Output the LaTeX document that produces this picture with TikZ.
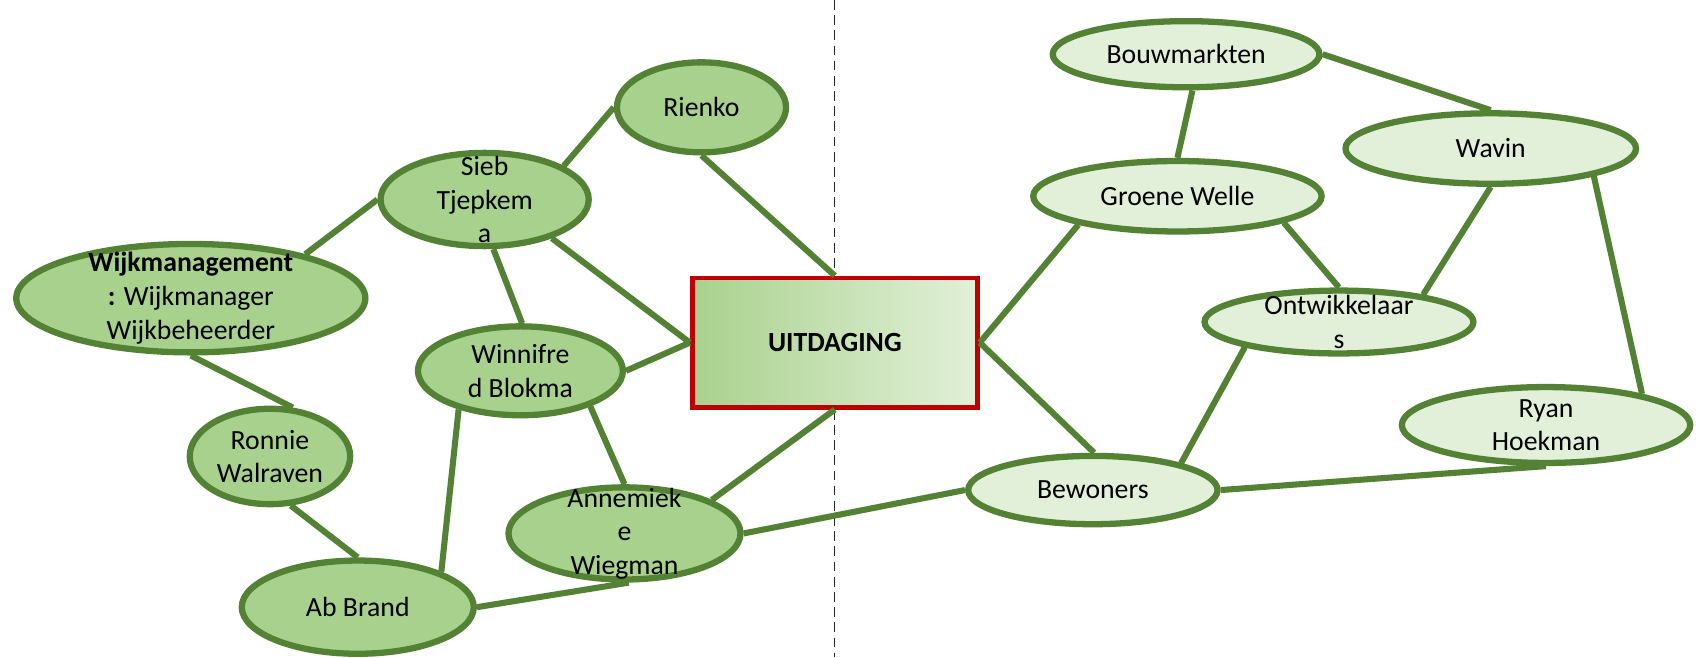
\documentclass[tikz,border=0pt]{standalone}
\usepackage{fontspec}
\setmainfont{Carlito}
\usetikzlibrary{shapes.geometric}
\definecolor{edge}{HTML}{548235}
\definecolor{fillA}{HTML}{A9D18E}
\definecolor{fillB}{HTML}{E2F0D9}
\definecolor{redb}{HTML}{C00000}
\begin{document}
\begin{tikzpicture}[x=0.5pt,y=-0.5pt,
  ell/.style={ellipse, draw=edge, line width=2.9pt, inner sep=0pt},
  ellA/.style={ell, fill=fillA},
  ellB/.style={ell, fill=fillB},
  lbl/.style={font=\fontsize{12.8}{15.5}\selectfont, align=center, inner sep=0pt},
  conn/.style={draw=edge, line width=2.8pt},
  divider/.style={draw=black!85, line width=0.6pt, dash pattern=on 4.5pt off 2.5pt}]
\useasboundingbox (0,0) rectangle (1568,606);
% divider
\coordinate (dtop) at (770,0);
\coordinate (dbot) at (770,606);
\draw[divider] (dtop) -- (dbot);
% ellipses
\node[ellA, minimum width=161pt, minimum height=50pt] (wijk) at (176,275) {};
\node[ellA, minimum width=96pt, minimum height=43pt] (sieb) at (447,184) {};
\node[ellA, minimum width=78pt, minimum height=41.5pt] (rienko) at (647,99) {};
\node[ellA, minimum width=94.5pt, minimum height=41pt] (winn) at (480,342) {};
\node[ellA, minimum width=74pt, minimum height=44pt] (ronnie) at (249,421) {};
\node[ellA, minimum width=107pt, minimum height=43pt] (ab) at (330,560) {};
\node[ellA, minimum width=107pt, minimum height=42.5pt] (ann) at (576,492) {};
\node[ellB, minimum width=123pt, minimum height=30.5pt] (bouw) at (1094,50) {};
\node[ellB, minimum width=133pt, minimum height=32.5pt] (gw) at (1086,181) {};
\node[ellB, minimum width=134pt, minimum height=32.5pt] (wavin) at (1375,137) {};
\node[ellB, minimum width=124pt, minimum height=29pt] (ontw) at (1235,297) {};
\node[ellB, minimum width=133pt, minimum height=35pt] (ryan) at (1426,392) {};
\node[ellB, minimum width=115pt, minimum height=31.5pt] (bew) at (1008,452) {};
% central box
\node[draw=redb, line width=2.2pt, left color=fillA, right color=fillB,
      minimum width=131.5pt, minimum height=59.5pt, inner sep=0pt] (uit) at (770,316) {};
% connectors
\draw[conn] (wijk.21) -- (sieb.180);
\draw[conn] (sieb.23) -- (rienko.180);
\draw[conn] (sieb.-30) -- (uit.west);
\draw[conn] (sieb.-80) -- (winn.88);
\draw[conn] (rienko.-90) -- (uit.north);
\draw[conn] (winn.0) -- (uit.west);
\draw[conn] (wijk.-90) -- (ronnie.65);
\draw[conn] (ronnie.-67) -- (ab.90);
\draw[conn] (winn.212) -- (ab.23);
\draw[conn] (winn.-27) -- (ann.90);
\draw[conn] (ab.0) -- (ann.-85);
\draw[conn] (ann.21) -- (uit.south);
\draw[conn] (ann.0) -- (bew.180);
\draw[conn] (uit.east) -- (gw.196);
\draw[conn] (uit.east) -- (bew.88);
\draw[conn] (bouw.-80) -- (gw.90);
\draw[conn] (bouw.0) -- (wavin.90);
\draw[conn] (gw.-14) -- (ontw.90);
\draw[conn] (wavin.-90) -- (ontw.18);
\draw[conn] (wavin.-15) -- (ryan.18);
\draw[conn] (ontw.195) -- (bew.17);
\draw[conn] (bew.0) -- (ryan.-90);
% texts
\node[lbl] (twijk) at (wijk) {\textbf{Wijkmanagement}\\\textbf{:} Wijkmanager\\Wijkbeheerder};
\node[lbl] (tsieb) at (sieb) {Sieb\\Tjepkem\\a};
\node[lbl] (trienko) at (rienko) {Rienko};
\node[lbl] (twinn) at (winn) {Winnifre\\d Blokma};
\node[lbl] (tronnie) at (ronnie) {Ronnie\\Walraven};
\node[lbl] (tab) at (ab) {Ab Brand};
\node[lbl] (tann) at (ann) {Annemiek\\e\\Wiegman};
\node[lbl] (tbouw) at (bouw) {Bouwmarkten};
\node[lbl] (tgw) at (gw) {Groene Welle};
\node[lbl] (twavin) at (wavin) {Wavin};
\node[lbl] (tontw) at (ontw) {Ontwikkelaar\\s};
\node[lbl] (tryan) at (ryan) {Ryan\\Hoekman};
\node[lbl] (tbew) at (bew) {Bewoners};
\node[lbl, font=\fontsize{12.8}{15.5}\selectfont\bfseries] (tuit) at (uit) {UITDAGING};
\end{tikzpicture}
\end{document}
